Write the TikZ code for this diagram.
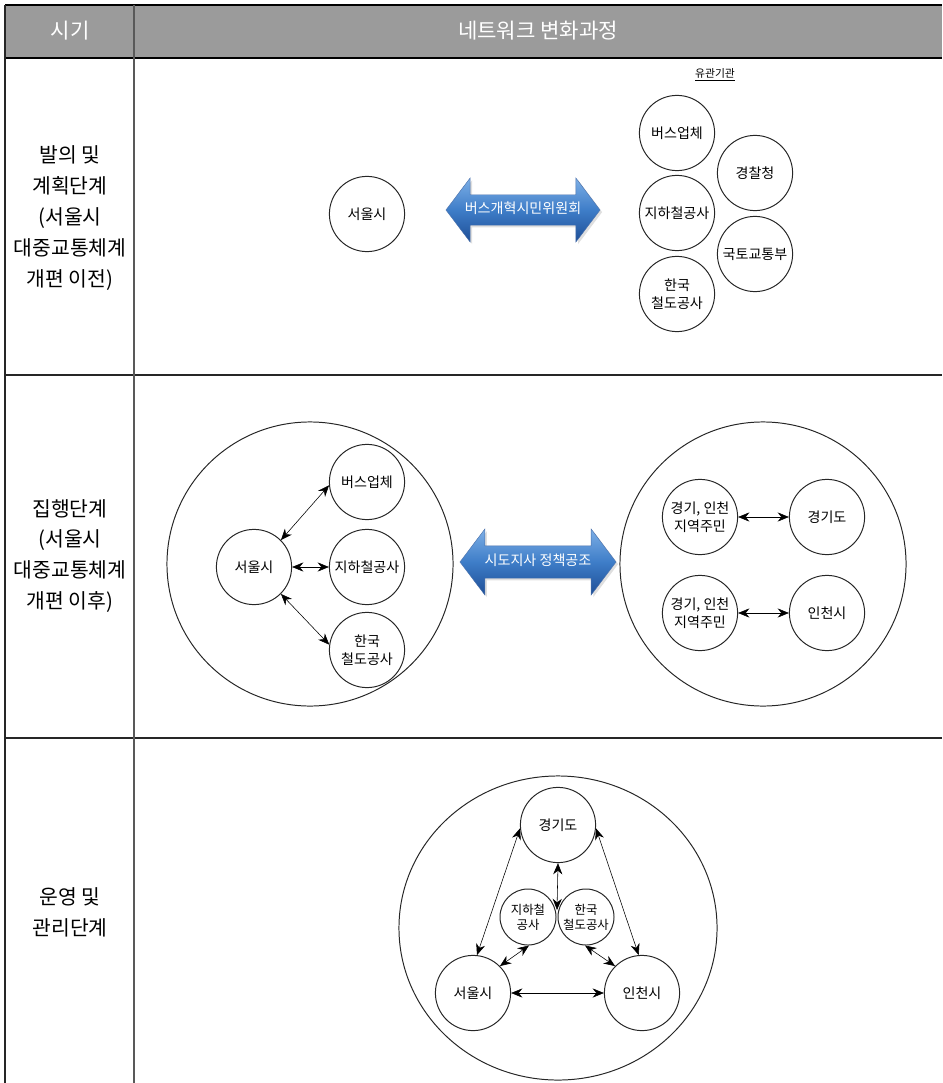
\documentclass[tikz,border=0pt]{standalone}
\usepackage{fontspec}
\setmainfont{Noto Sans CJK KR}
\usetikzlibrary{arrows.meta,shapes.geometric,shapes.arrows,shadows}

\definecolor{headgray}{RGB}{155,155,155}
\definecolor{bluetop}{RGB}{125,175,230}
\definecolor{bluemid}{RGB}{62,125,200}
\definecolor{bluebot}{RGB}{30,78,150}

\begin{document}
\begin{tikzpicture}[x=0.025cm,y=-0.025cm,>={Stealth[length=8pt,width=6.5pt]}]
	    \tikzstyle{tablerule}=[line width=1pt,draw=black!85]
	    \tikzstyle{org}=[draw=black!85,line width=0.7pt,circle,minimum size=1.88cm,inner sep=0pt,align=center,font=\fontsize{10}{12.5}\selectfont]
	    \tikzstyle{smallorg}=[org,minimum size=1.4cm,font=\fontsize{8.8}{10.5}\selectfont]
	    \tikzstyle{groupring}=[draw=black!85,line width=0.7pt,ellipse,inner sep=0pt]
	    \tikzstyle{phase}=[align=center,font=\fontsize{14.5}{22}\selectfont]
	    \tikzstyle{bluearrow}=[double arrow,double arrow tip angle=106,double arrow head extend=0.42cm,
	        minimum width=1.6cm,minimum height=3.85cm,text height=0.25cm,text depth=0.07cm,inner ysep=0.215cm,inner xsep=2pt,
	        top color=bluetop,bottom color=bluebot,middle color=bluemid,draw=bluebot!80,line width=0.3pt,
	        drop shadow={opacity=0.25,shadow xshift=1.5pt,shadow yshift=-1.5pt},
	        text=white,font=\fontsize{10}{12}\selectfont]
	    
	    \useasboundingbox (0,0) rectangle (942,1083);
	    
	    % table
	    \fill[headgray] (5,5) rectangle (942,58);
	    \draw[tablerule,line width=1.3pt,draw=black] (5,5) -- (942,5);
	    \draw[tablerule,line width=1.3pt,draw=black] (5,58) -- (942,58);
	    \draw[tablerule] (5,375) -- (942,375);
	    \draw[tablerule] (5,738) -- (942,738);
	    \draw[tablerule] (5,5) -- (5,1083);
	    \draw[tablerule,draw=black!65] (134,5) -- (134,1083);
	    
	    \node[text=white,font=\fontsize{15}{17}\selectfont] (hperiod) at (70,31) {시기};
	    \node[text=white,font=\fontsize{15}{17}\selectfont] (hnetwork) at (538,31) {네트워크 변화과정};
	    
	    \node[phase] (plan) at (70,218) {발의 및\\계획단계\\(서울시\\대중교통체계\\개편 이전)};
	    \node[phase] (exec) at (70,556) {집행단계\\(서울시\\대중교통체계\\개편 이후)};
	    \node[phase] (oper) at (70,912) {운영 및\\관리단계};
	    
	    % plan
	    \node[org] (seoulA) at (367,214) {서울시};
	    \node[bluearrow] (committee) at (523,210) {버스개혁시민위원회};
	    \node[font=\fontsize{7.7}{9}\selectfont] (related) at (715,75) {\underline{유관기관}};
	    \node[org] (busA) at (677,133) {버스업체};
	    \node[org] (police) at (755,173) {경찰청};
	    \node[org] (subwayA) at (677,213) {지하철공사};
	    \node[org] (molit) at (755,254) {국토교통부};
	    \node[org] (korailA) at (677,294) {한국\\철도공사};
	    
	    % execution
	    \node[groupring,minimum width=7.15cm,minimum height=7.1cm] (seoulring) at (310,564) {};
	    \node[org] (seoulB) at (254,567) {서울시};
	    \node[org] (busB) at (367,482) {버스업체};
	    \node[org] (subwayB) at (367,567) {지하철공사};
	    \node[org] (korailB) at (367,650) {한국\\철도공사};
	    \path[<->] (seoulB.45) edge (busB.185);
	    \path[<->] (seoulB.east) edge (subwayB.west);
	    \path[<->] (seoulB.-45) edge (korailB.172);
	    
	    \node[bluearrow,minimum height=3.9cm,inner ysep=0.24cm] (governors) at (538,562) {시도지사 정책공조};
	    
	    \node[groupring,minimum width=7.15cm,minimum height=7.1cm] (metroring) at (763,564) {};
	    \node[org] (residentsA) at (700,517) {경기, 인천\\지역주민};
	    \node[org] (gyeonggiB) at (827,517) {경기도};
	    \node[org] (residentsB) at (700,613) {경기, 인천\\지역주민};
	    \node[org] (incheonB) at (827,613) {인천시};
	    \path[<->] (residentsA.east) edge (gyeonggiB.west);
	    \path[<->] (residentsB.east) edge (incheonB.west);
	    
	    % operation
	    \node[groupring,minimum width=7.95cm,minimum height=7.6cm] (allring) at (558,928) {};
	    \node[org] (gyeonggiC) at (558,825) {경기도};
	    \node[org] (seoulC) at (473,993) {서울시};
	    \node[org] (incheonC) at (642,993) {인천시};
	    \node[smallorg] (subwayC) at (528,917) {지하철\\공사};
	    \node[smallorg] (korailC) at (586,917) {한국\\철도공사};
	    \coordinate (railjoint) at (557,910);
	    \path[<->] (gyeonggiC.185) edge (seoulC.84);
	    \path[<->] (gyeonggiC.355) edge (incheonC.95);
	    \path[<->] (seoulC.east) edge (incheonC.west);
	    \path[<->] (gyeonggiC.south) edge (railjoint);
	    \path[<->] (subwayC.272) edge (seoulC.45);
	    \path[<->] (korailC.268) edge (incheonC.135);
    
    \end{tikzpicture}
\end{document}
